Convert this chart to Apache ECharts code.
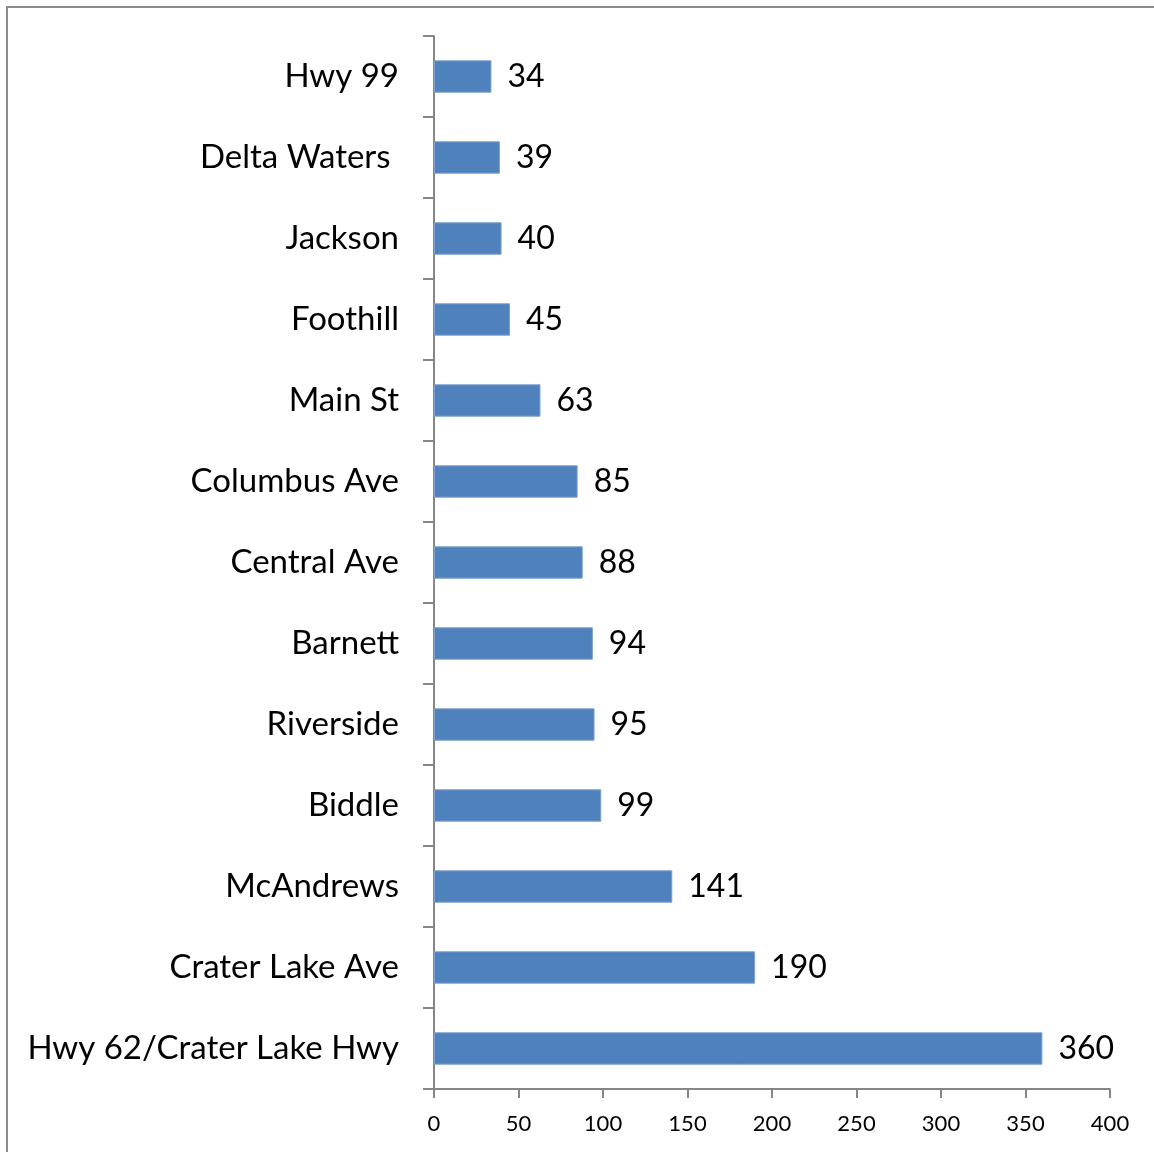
<!DOCTYPE html>
<html><head><meta charset="utf-8">
<script src="https://cdn.jsdelivr.net/npm/echarts@6/dist/echarts.min.js"></script>
<style>
html,body{margin:0;padding:0;background:#fff;overflow:hidden;}
#frame{position:absolute;left:6px;top:6px;width:1170px;height:1170px;border:2px solid #8c8c8c;box-sizing:border-box;}
#chart{position:absolute;left:0;top:0;width:1154px;height:1152px;}
</style></head>
<body>
<div id="frame"></div>
<div id="chart"></div>
<script>
const categories = ["Hwy 99","Delta Waters ","Jackson","Foothill","Main St","Columbus Ave","Central Ave","Barnett","Riverside","Biddle","McAndrews","Crater Lake Ave","Hwy 62/Crater Lake Hwy"];
const values = [34,39,40,45,63,85,88,94,95,99,141,190,360];
const xTicks = {min:0, max:400, interval:50};

const font = "Lato, 'Open Sans', sans-serif";
const chart = echarts.init(document.getElementById('chart'));
chart.setOption({
  animation:false,
  grid:{left:434, right:44, top:36, bottom:63, containLabel:false},
  xAxis:{type:'value', min:xTicks.min, max:xTicks.max, interval:xTicks.interval,
    axisLine:{show:true, lineStyle:{color:'#868686', width:2}},
    axisTick:{show:true, length:9, lineStyle:{color:'#868686', width:2}},
    splitLine:{show:false},
    axisLabel:{color:'#000', fontSize:22, fontFamily:font, margin:24}},
  yAxis:{type:'category', data:categories, inverse:true,
    axisLine:{show:true, lineStyle:{color:'#868686', width:2}},
    axisTick:{show:true, length:11, lineStyle:{color:'#868686', width:2}},
    axisLabel:{color:'#000', fontSize:33, fontFamily:font, margin:35, padding:[8,0,0,0]}},
  series:[{type:'bar', data:values, barCategoryGap:'60%',
    itemStyle:{color:'#4F81BD', borderColor:'#7EA1CE', borderWidth:1},
    label:{show:true, position:'right', distance:16, color:'#000', fontSize:32, fontFamily:font, padding:[8,0,0,0]}}]
});
</script>
</body></html>
